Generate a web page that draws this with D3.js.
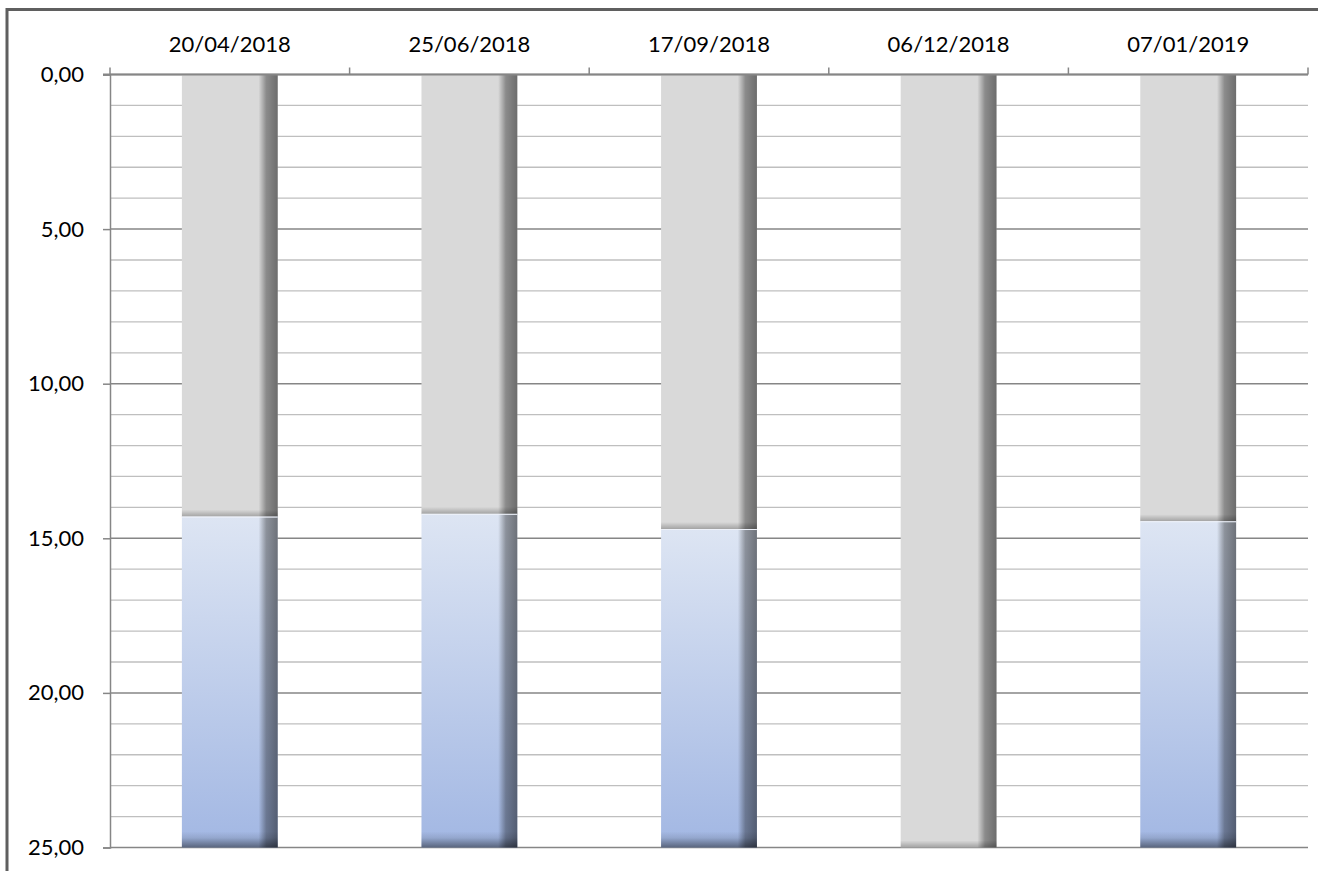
<!DOCTYPE html>
<html>
<head>
<meta charset="utf-8">
<script src="https://cdn.jsdelivr.net/npm/d3@7"></script>
<style>
  html, body { margin: 0; padding: 0; background: #fff; overflow: hidden; }
  svg { display: block; }
  text { font-family: Lato, "Open Sans", sans-serif; font-weight: 400; fill: #000; }
</style>
</head>
<body>
<svg width="1318" height="871"></svg>
<script>
// readings (axis is reversed: 0 at top, 25 at bottom)
const dates = ["20/04/2018", "25/06/2018", "17/09/2018", "06/12/2018", "07/01/2019"];
const grayValues = [14.30, 14.21, 14.70, 25.00, 14.45];
const blueValues = [10.70, 10.79, 10.30, 0, 10.55];
const yTicks = [0, 5, 10, 15, 20, 25];

const svg = d3.select("svg");
const defs = svg.append("defs");

const x = d3.scaleBand()
    .domain(dates)
    .range([110, 1308])
    .paddingInner(0.6)
    .paddingOuter(0.3);

const y = d3.scaleLinear()
    .domain([0, 25])
    .range([74.5, 847.5]);

const step = x.step();
const fmt = (d) => d3.format(".2f")(d).replace(".", ",");

// gradients
function linGrad(id, x2, y2, stops) {
    const g = defs.append("linearGradient")
        .attr("id", id)
        .attr("x1", 0).attr("y1", 0)
        .attr("x2", x2).attr("y2", y2);
    stops.forEach((s) => {
        g.append("stop")
            .attr("offset", s[0])
            .attr("stop-color", s[1])
            .attr("stop-opacity", s[2]);
    });
}
linGrad("blueFill", 0, 1, [[0, "#dde5f3", 1], [1, "#a2b7e3", 1]]);
linGrad("rightShade", 1, 0, [[0, "#000", 0], [0.8, "#000", 0], [0.88, "#000", 0.36], [1, "#000", 0.5]]);
linGrad("bottomShade", 0, 1, [[0, "#000", 0], [1, "#000", 0.25]]);
linGrad("bottomShadeBlue", 0, 1, [[0, "#000", 0], [0.4, "#000", 0.1], [1, "#000", 0.45]]);

// outer frame (clipped by the window, as in the reference)
svg.append("rect")
    .attr("x", 7).attr("y", 9.5)
    .attr("width", 1400).attr("height", 1000)
    .attr("fill", "none")
    .attr("stroke", "#5f5f5f")
    .attr("stroke-width", 3);

// minor + major gridlines
const minor = d3.range(0, 26);
svg.append("g")
    .selectAll("line")
    .data(minor)
    .enter().append("line")
    .attr("x1", 110).attr("x2", 1308)
    .attr("y1", (d) => y(d)).attr("y2", (d) => y(d))
    .attr("stroke", (d) => d % 5 === 0 ? "#868686" : "#bfbfbf")
    .attr("stroke-width", (d) => d % 5 === 0 ? 1.5 : 1.3);

// bars
const bars = svg.append("g").selectAll("g")
    .data(dates.map((d, i) => ({date: d, gray: grayValues[i], blue: blueValues[i]})))
    .enter().append("g");

const bw = x.bandwidth();

bars.append("rect")
    .attr("x", (d) => x(d.date))
    .attr("y", y(0))
    .attr("width", bw)
    .attr("height", (d) => y(d.gray) - y(0))
    .attr("fill", "#d9d9d9");

bars.append("rect")
    .attr("x", (d) => x(d.date))
    .attr("y", (d) => y(d.gray) - 7)
    .attr("width", bw)
    .attr("height", 7)
    .attr("fill", "url(#bottomShade)");

bars.append("rect")
    .attr("x", (d) => x(d.date))
    .attr("y", y(0))
    .attr("width", bw)
    .attr("height", (d) => y(d.gray) - y(0))
    .attr("fill", "url(#rightShade)");

const blueBars = bars.filter((d) => d.blue > 0);

blueBars.append("rect")
    .attr("x", (d) => x(d.date))
    .attr("y", (d) => y(d.gray))
    .attr("width", bw)
    .attr("height", (d) => y(d.gray + d.blue) - y(d.gray))
    .attr("fill", "url(#blueFill)");

blueBars.append("rect")
    .attr("x", (d) => x(d.date))
    .attr("y", (d) => y(d.gray + d.blue) - 16)
    .attr("width", bw)
    .attr("height", 16)
    .attr("fill", "url(#bottomShadeBlue)");

blueBars.append("rect")
    .attr("x", (d) => x(d.date))
    .attr("y", (d) => y(d.gray))
    .attr("width", bw)
    .attr("height", (d) => y(d.gray + d.blue) - y(d.gray))
    .attr("fill", "url(#rightShade)");

blueBars.append("line")
    .attr("x1", (d) => x(d.date)).attr("x2", (d) => x(d.date) + bw)
    .attr("y1", (d) => y(d.gray) + 0.5).attr("y2", (d) => y(d.gray) + 0.5)
    .attr("stroke", "#eef2fa")
    .attr("stroke-width", 1);

// y axis
const yAxis = svg.append("g")
    .attr("transform", "translate(110,0)")
    .call(d3.axisLeft(y).tickValues(yTicks).tickFormat(fmt).tickSize(7).tickPadding(19));
yAxis.select(".domain").attr("stroke", "#868686").attr("stroke-width", 1.5);
yAxis.selectAll(".tick line").attr("stroke", "#868686").attr("stroke-width", 1.5);
yAxis.selectAll(".tick text")
    .attr("font-size", 22)
    .style("font-family", "Lato, sans-serif")
    .style("font-weight", 400)
    .attr("fill", "#000");

// top category axis: line, boundary ticks, labels
svg.append("line")
    .attr("x1", 103).attr("x2", 1308)
    .attr("y1", y(0)).attr("y2", y(0))
    .attr("stroke", "#868686")
    .attr("stroke-width", 1.8);

const bounds = d3.range(0, dates.length + 1).map((i) => 110 + i * step);
svg.append("g").selectAll("line")
    .data(bounds)
    .enter().append("line")
    .attr("x1", (d) => d).attr("x2", (d) => d)
    .attr("y1", y(0) - 7).attr("y2", y(0))
    .attr("stroke", "#868686")
    .attr("stroke-width", 1.5);

svg.append("g").selectAll("text")
    .data(dates)
    .enter().append("text")
    .attr("x", (d) => x(d) + bw / 2)
    .attr("y", 52)
    .attr("text-anchor", "middle")
    .attr("font-size", 22)
    .text((d) => d);
</script>
</body>
</html>
